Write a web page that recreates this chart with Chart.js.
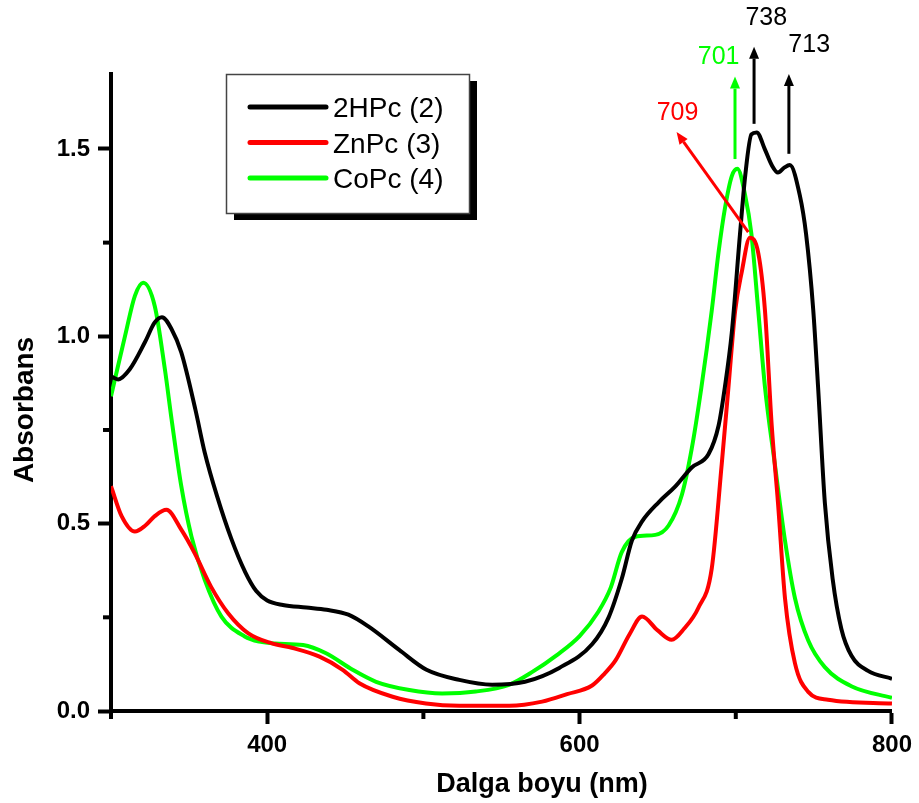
<!DOCTYPE html>
<html>
<head>
<meta charset="utf-8">
<script src="https://cdn.jsdelivr.net/npm/chart.js@4/dist/chart.umd.min.js"></script>
<style>
  html, body { margin: 0; padding: 0; background: #fff; }
  #wrap { width: 919px; height: 803px; }
</style>
</head>
<body>
<div id="wrap"><canvas id="c" width="919" height="803"></canvas></div>
<script>
// UV-Vis absorption spectra of the phthalocyanines
const seriesNames = ['2HPc (2)', 'ZnPc (3)', 'CoPc (4)'];
const seriesColors = ['#000000', '#ff0000', '#00ff00'];

const nm2HPc = [300, 304.5, 312, 321.7, 328, 332.6, 338.8, 345, 354, 360, 368, 377, 386, 393, 400, 410, 425, 438, 452, 465, 484.5, 502, 523, 544, 565, 587, 608, 618.6, 627, 633.5, 640, 650.6, 661, 671.8, 682.5, 689, 693, 697.4, 702.7, 706, 710, 713.4, 718.7, 723, 727, 731, 734.6, 741, 745, 749.6, 752.7, 757, 762, 767.6, 774, 784.7, 800];
const abs2HPc = [0.893, 0.885, 0.912, 0.984, 1.037, 1.051, 1.019, 0.957, 0.805, 0.69, 0.572, 0.46, 0.37, 0.32, 0.295, 0.283, 0.276, 0.27, 0.257, 0.225, 0.163, 0.11, 0.083, 0.07, 0.078, 0.115, 0.178, 0.25, 0.353, 0.455, 0.506, 0.557, 0.598, 0.65, 0.685, 0.762, 0.864, 1.008, 1.273, 1.427, 1.539, 1.544, 1.498, 1.457, 1.437, 1.45, 1.457, 1.376, 1.273, 1.07, 0.864, 0.557, 0.353, 0.219, 0.148, 0.107, 0.086];

const nmZnPc = [300, 306.8, 315.3, 322, 328, 335.5, 345, 353.6, 364, 375, 387.7, 402.6, 416.4, 433.5, 448.3, 459, 480.3, 501.6, 523, 555, 576, 592, 608, 616, 623, 632, 640, 650, 659, 667, 676, 684.6, 691, 695.3, 699.6, 703.8, 709, 714.4, 718.7, 723, 727, 731.5, 737.9, 746.4, 759, 800];
const absZnPc = [0.6, 0.52, 0.479, 0.495, 0.52, 0.537, 0.484, 0.421, 0.332, 0.261, 0.208, 0.181, 0.168, 0.145, 0.11, 0.074, 0.038, 0.02, 0.014, 0.014, 0.025, 0.045, 0.068, 0.1, 0.135, 0.205, 0.252, 0.215, 0.19, 0.22, 0.275, 0.38, 0.659, 0.864, 1.068, 1.171, 1.263, 1.222, 1.068, 0.762, 0.557, 0.301, 0.127, 0.051, 0.03, 0.02];

const nmCoPc = [300, 309, 315.3, 320.6, 328, 334.5, 338.8, 345, 351.5, 360, 370.7, 385.6, 395, 405, 423, 437.7, 454.7, 469.7, 491, 512, 533.5, 554.8, 570, 585, 600, 612, 620, 627, 635.7, 648.5, 657, 665.5, 671.8, 678, 684.6, 688.9, 693.2, 697.4, 701, 706, 710, 714.4, 718.7, 725, 731.5, 737.9, 746.4, 757, 774, 800];
const absCoPc = [0.84, 1.001, 1.108, 1.143, 1.081, 0.912, 0.778, 0.6, 0.466, 0.35, 0.252, 0.199, 0.185, 0.18, 0.176, 0.154, 0.11, 0.078, 0.056, 0.047, 0.052, 0.07, 0.105, 0.148, 0.2, 0.265, 0.33, 0.424, 0.465, 0.47, 0.495, 0.577, 0.7, 0.864, 1.068, 1.222, 1.345, 1.427, 1.447, 1.376, 1.273, 1.068, 0.864, 0.659, 0.455, 0.301, 0.188, 0.117, 0.066, 0.035];

// axis ticks
const xMajorTicks = [400, 600, 800];
const xMinorTicks = [300, 500, 700];
const yMajorTicks = [0, 0.5, 1.0, 1.5];
const yMinorTicks = [0.25, 0.75, 1.25];

// peak markers: label, arrow tail (nm, A), arrow tip (nm, A), label anchor (nm, A)
const peakLabels = ['738', '713', '701', '709'];
const peakColors = ['#000000', '#000000', '#00ff00', '#ff0000'];
const arrowTail = [[711.7, 1.567], [734.0, 1.487], [699.5, 1.473], [708.0, 1.278]];
const arrowTip  = [[711.7, 1.773], [734.0, 1.700], [699.5, 1.693], [662.1, 1.545]];
const labelAt   = [[719.5, 1.850], [747.0, 1.777], [689.0, 1.744], [662.7, 1.595]];

const FONT = "'Liberation Sans', Arial, sans-serif";

function toPoints(xs, ys) { return xs.map((x, i) => ({ x: x, y: ys[i] })); }

const seriesData = [toPoints(nm2HPc, abs2HPc), toPoints(nmZnPc, absZnPc), toPoints(nmCoPc, absCoPc)];

const decorations = {
  id: 'decorations',
  afterDraw(chart) {
    const ctx = chart.ctx;
    const xs = chart.scales.x, ys = chart.scales.y;
    const area = chart.chartArea;
    ctx.save();

    // minor ticks
    ctx.strokeStyle = '#000';
    ctx.lineWidth = 4;
    ctx.lineCap = 'butt';
    xMinorTicks.forEach(v => {
      const px = xs.getPixelForValue(v);
      ctx.beginPath(); ctx.moveTo(px, area.bottom); ctx.lineTo(px, area.bottom + 8); ctx.stroke();
    });
    yMinorTicks.forEach(v => {
      const py = ys.getPixelForValue(v);
      ctx.beginPath(); ctx.moveTo(area.left - 8, py); ctx.lineTo(area.left, py); ctx.stroke();
    });

    // axis titles
    ctx.fillStyle = '#000';
    ctx.font = 'bold 27px ' + FONT;
    ctx.textAlign = 'center';
    ctx.textBaseline = 'alphabetic';
    ctx.fillText('Dalga boyu (nm)', 542, 792);
    ctx.save();
    ctx.translate(33, 410);
    ctx.rotate(-Math.PI / 2);
    ctx.font = 'bold 28px ' + FONT;
    ctx.fillText('Absorbans', 0, 0);
    ctx.restore();

    // legend box with drop shadow
    const bx = 226, by = 74, bw = 243, bh = 139;
    ctx.fillStyle = '#000';
    ctx.fillRect(bx + 8, by + 7, bw, bh);
    ctx.fillStyle = '#fff';
    ctx.fillRect(bx, by, bw, bh);
    ctx.strokeStyle = '#444';
    ctx.lineWidth = 1.5;
    ctx.strokeRect(bx + 0.5, by + 0.5, bw, bh);
    ctx.font = '28px ' + FONT;
    ctx.textAlign = 'left';
    ctx.textBaseline = 'alphabetic';
    chart.data.datasets.forEach((ds, i) => {
      const ly = 107 + i * 35.5;
      ctx.strokeStyle = ds.borderColor;
      ctx.lineWidth = 5;
      ctx.lineCap = 'round';
      ctx.beginPath(); ctx.moveTo(250, ly); ctx.lineTo(326, ly); ctx.stroke();
      ctx.fillStyle = '#000';
      ctx.fillText(ds.label, 333, ly + 10);
    });

    // peak arrows and labels
    ctx.lineCap = 'butt';
    peakLabels.forEach((txt, i) => {
      const x0 = xs.getPixelForValue(arrowTail[i][0]), y0 = ys.getPixelForValue(arrowTail[i][1]);
      const x1 = xs.getPixelForValue(arrowTip[i][0]), y1 = ys.getPixelForValue(arrowTip[i][1]);
      const ang = Math.atan2(y1 - y0, x1 - x0);
      const head = 12, half = 5;
      const hx = x1 - head * Math.cos(ang), hy = y1 - head * Math.sin(ang);
      ctx.strokeStyle = peakColors[i];
      ctx.fillStyle = peakColors[i];
      ctx.lineWidth = 3;
      ctx.beginPath(); ctx.moveTo(x0, y0); ctx.lineTo(hx, hy); ctx.stroke();
      ctx.beginPath();
      ctx.moveTo(x1, y1);
      ctx.lineTo(hx + half * Math.sin(ang), hy - half * Math.cos(ang));
      ctx.lineTo(hx - half * Math.sin(ang), hy + half * Math.cos(ang));
      ctx.closePath(); ctx.fill();

      ctx.font = '25px ' + FONT;
      ctx.textAlign = 'center';
      ctx.textBaseline = 'middle';
      ctx.fillText(txt, xs.getPixelForValue(labelAt[i][0]), ys.getPixelForValue(labelAt[i][1]));
    });
    ctx.restore();
  }
};

new Chart(document.getElementById('c'), {
  type: 'line',
  data: {
    datasets: seriesData.map((d, i) => ({
      label: seriesNames[i],
      data: d,
      borderColor: seriesColors[i],
      backgroundColor: seriesColors[i],
      borderWidth: 4,
      pointRadius: 0,
      fill: false,
      cubicInterpolationMode: 'monotone'
    }))
  },
  options: {
    responsive: false,
    animation: false,
    devicePixelRatio: 1,
    layout: { padding: { top: 74, right: 25, left: 0, bottom: 0 } },
    plugins: { legend: { display: false }, tooltip: { enabled: false } },
    scales: {
      x: {
        type: 'linear',
        min: 300, max: 800,
        afterBuildTicks: s => { s.ticks = xMajorTicks.map(v => ({ value: v })); },
        afterFit: s => { s.height = 92; },
        ticks: {
          color: '#000', padding: 7, maxRotation: 0, autoSkip: false,
          font: { family: FONT, size: 24, weight: 'bold' },
          callback: v => String(v)
        },
        grid: { drawOnChartArea: false, drawTicks: true, tickLength: 13, tickWidth: 4, tickColor: '#000', color: '#000' },
        border: { display: true, width: 4, color: '#000' }
      },
      y: {
        min: 0, max: 1.7,
        afterBuildTicks: s => { s.ticks = yMajorTicks.map(v => ({ value: v })); },
        afterFit: s => { s.width = 111; },
        ticks: {
          color: '#000', padding: 8, autoSkip: false,
          font: { family: FONT, size: 24, weight: 'bold' },
          callback: v => Number(v).toFixed(1)
        },
        grid: { drawOnChartArea: false, drawTicks: true, tickLength: 13, tickWidth: 4, tickColor: '#000', color: '#000' },
        border: { display: true, width: 4, color: '#000' }
      }
    }
  },
  plugins: [decorations]
});
</script>
</body>
</html>
